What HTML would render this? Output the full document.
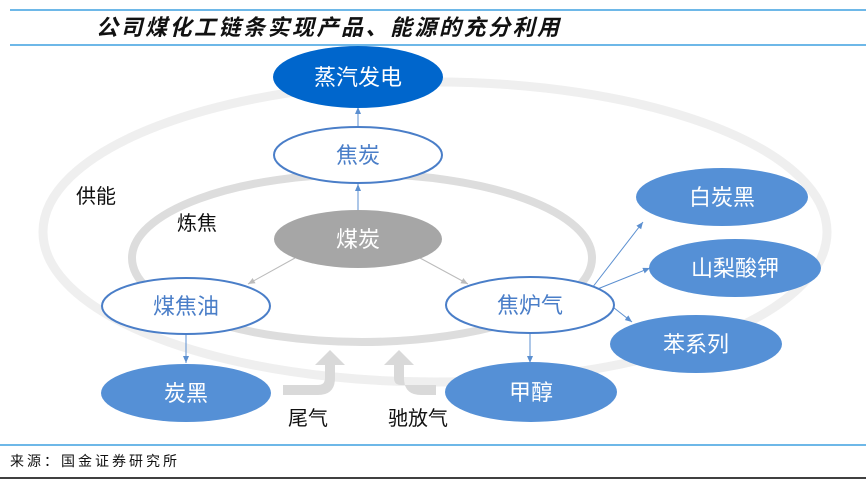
<!DOCTYPE html>
<html><head><meta charset="utf-8"><style>
body{margin:0;width:866px;height:479px;background:#fff;overflow:hidden}
text{font-family:"Liberation Sans","Noto Sans CJK SC",sans-serif}
</style></head><body>
<svg width="866" height="479" viewBox="0 0 866 479">
<defs><marker id="a" markerWidth="8" markerHeight="8" refX="7" refY="4" orient="auto" markerUnits="userSpaceOnUse"><path d="M0,1 L7,4 L0,7z" fill="#5B8FD0"/></marker>
<marker id="g" markerWidth="8" markerHeight="8" refX="7" refY="4" orient="auto" markerUnits="userSpaceOnUse"><path d="M0,1 L7,4 L0,7z" fill="#BBB"/></marker></defs>
<line x1="10" y1="10" x2="866" y2="10" stroke="#3FA0E0" stroke-width="1.5"/>
<line x1="10" y1="45" x2="866" y2="45" stroke="#3FA0E0" stroke-width="1.5"/>
<text x="96" y="35" font-size="22" letter-spacing="2.5" font-style="italic" font-weight="bold" fill="#111">公司煤化工链条实现产品、能源的充分利用</text>
<ellipse cx="435" cy="232" rx="392" ry="150" fill="none" stroke="#EFEFEF" stroke-width="9"/>
<ellipse cx="362" cy="258" rx="230" ry="84" fill="none" stroke="#DDDDDD" stroke-width="8"/>
<path d="M283,385 L318,385 Q325,385 325,378 L325,365 L315,365 L330,350 L345,365 L335,365 L335,378 Q335,395 318,395 L283,395z" fill="#D9D9D9"/>
<path d="M440,385 L405,385 Q398,385 398,378 L398,365 L388,365 L403,350 L418,365 L408,365 L408,378 Q408,395 425,395 L440,395z" transform="translate(-4,0)" fill="#D9D9D9"/>
<line x1="358" y1="127" x2="358" y2="107" stroke="#5B8FD0" marker-end="url(#a)"/>
<line x1="358" y1="212" x2="358" y2="184" stroke="#5B8FD0" marker-end="url(#a)"/>
<line x1="295" y1="258" x2="248" y2="284" stroke="#BBB" marker-end="url(#g)"/>
<line x1="420" y1="258" x2="468" y2="284" stroke="#BBB" marker-end="url(#g)"/>
<line x1="186" y1="333" x2="186" y2="363" stroke="#5B8FD0" marker-end="url(#a)"/>
<line x1="530" y1="333" x2="530" y2="363" stroke="#5B8FD0" marker-end="url(#a)"/>
<line x1="592" y1="288" x2="643" y2="222" stroke="#5B8FD0" marker-end="url(#a)"/>
<line x1="595" y1="290" x2="650" y2="268" stroke="#5B8FD0" marker-end="url(#a)"/>
<line x1="595" y1="293" x2="632" y2="322" stroke="#5B8FD0" marker-end="url(#a)"/>
<g font-size="22" text-anchor="middle">
<ellipse cx="358" cy="77" rx="85" ry="31" fill="#0066CC"/><text x="358" y="85" fill="#fff">蒸汽发电</text>
<ellipse cx="358" cy="155" rx="84" ry="28" fill="#fff" stroke="#4A7EC8" stroke-width="2"/><text x="358" y="163" fill="#4A7EC8">焦炭</text>
<ellipse cx="358" cy="239" rx="84" ry="29" fill="#A6A6A6"/><text x="358" y="247" fill="#fff">煤炭</text>
<ellipse cx="186" cy="306" rx="84" ry="28" fill="#fff" stroke="#4A7EC8" stroke-width="2"/><text x="186" y="314" fill="#4A7EC8">煤焦油</text>
<ellipse cx="530" cy="305" rx="84" ry="28" fill="#fff" stroke="#4A7EC8" stroke-width="2"/><text x="530" y="313" fill="#4A7EC8">焦炉气</text>
<ellipse cx="186" cy="393" rx="85" ry="29" fill="#5590D6"/><text x="186" y="401" fill="#fff">炭黑</text>
<ellipse cx="531" cy="392" rx="86" ry="30" fill="#5590D6"/><text x="531" y="400" fill="#fff">甲醇</text>
<ellipse cx="722" cy="197" rx="86" ry="29" fill="#5590D6"/><text x="722" y="205" fill="#fff">白炭黑</text>
<ellipse cx="735" cy="268" rx="86" ry="29" fill="#5590D6"/><text x="735" y="276" fill="#fff">山梨酸钾</text>
<ellipse cx="696" cy="344" rx="86" ry="29" fill="#5590D6"/><text x="696" y="352" fill="#fff">苯系列</text>
</g>
<g font-size="20" fill="#111">
<text x="76" y="203">供能</text><text x="177" y="230">炼焦</text>
<text x="288" y="425">尾气</text><text x="388" y="425">驰放气</text>
</g>
<line x1="0" y1="445" x2="866" y2="445" stroke="#3FA0E0" stroke-width="1.5"/>
<text x="10" y="466" font-size="14" letter-spacing="3" fill="#111">来源：国金证券研究所</text>
<line x1="0" y1="478" x2="866" y2="478" stroke="#000" stroke-width="1.5"/>
</svg>
</body></html>
